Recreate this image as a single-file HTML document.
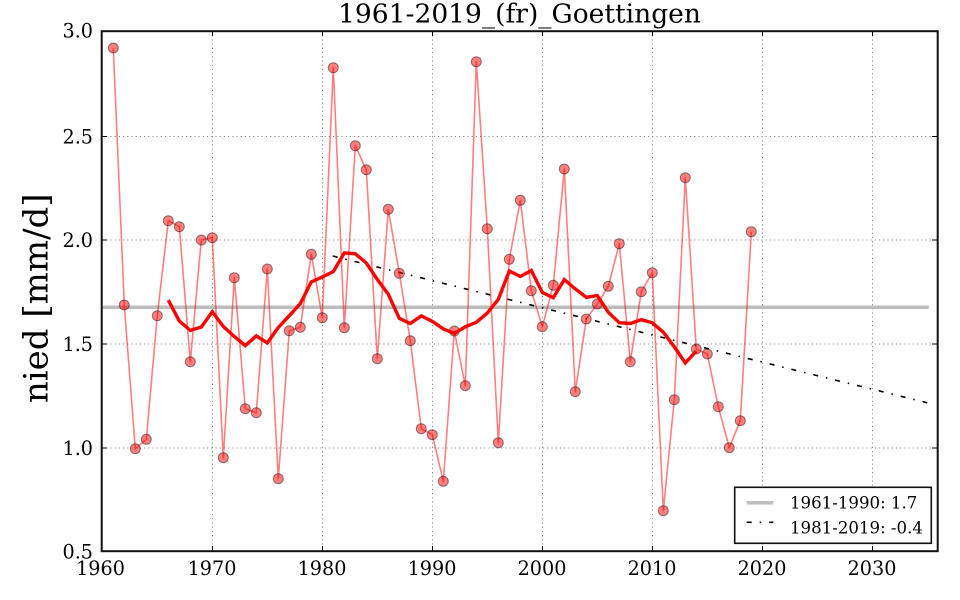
<!DOCTYPE html>
<html>
<head>
<meta charset="utf-8">
<style>
  html, body { margin: 0; padding: 0; background: #ffffff; }
  svg { display: block; }
  text { font-family: "DejaVu Serif", "Liberation Serif", serif; fill: #000; }
</style>
</head>
<body>
<svg width="960" height="600" viewBox="0 0 960 600" xmlns="http://www.w3.org/2000/svg">
  <rect x="0" y="0" width="960" height="600" fill="#ffffff"/>

  <g stroke="#8c8c8c" stroke-width="1" stroke-dasharray="1.2 3" fill="none">
    <line x1="212.5" y1="31" x2="212.5" y2="551"/>
    <line x1="322.5" y1="31" x2="322.5" y2="551"/>
    <line x1="432.5" y1="31" x2="432.5" y2="551"/>
    <line x1="542.5" y1="31" x2="542.5" y2="551"/>
    <line x1="652.5" y1="31" x2="652.5" y2="551"/>
    <line x1="762.5" y1="31" x2="762.5" y2="551"/>
    <line x1="872.5" y1="31" x2="872.5" y2="551"/>
    <line x1="102" y1="136.5" x2="937" y2="136.5"/>
    <line x1="102" y1="240" x2="937" y2="240"/>
    <line x1="102" y1="344" x2="937" y2="344"/>
    <line x1="102" y1="448" x2="937" y2="448"/>
  </g>

  <line x1="101.7" y1="307.2" x2="928.7" y2="307.2" stroke="#bdbdbd" stroke-width="3.5"/>

  <line x1="332.7" y1="256" x2="927.3" y2="402.8" stroke="#000" stroke-width="1.6" stroke-dasharray="5 8 1.5 8"/>

  <polyline fill="none" stroke="#ff0000" stroke-opacity="0.5" stroke-width="1.6" stroke-linejoin="round" points="113.3,48 124.3,305 135.3,448.7 146.3,439.3 157.3,315.7 168.3,220.7 179.3,226.7 190.3,361.7 201.3,240 212.3,237.7 223.3,457.7 234.3,277.7 245.3,408.7 256.3,412.7 267.3,269 278.3,478.7 289.3,330.7 300.3,327.3 311.3,254.3 322.3,317.7 333.3,67.7 344.3,327.7 355.3,145.7 366.3,169.7 377.3,358.7 388.3,209.3 399.3,273.3 410.3,340.7 421.3,428.7 432.3,434.7 443.3,481.3 454.3,331 465.3,385.7 476.3,61.7 487.3,228.7 498.3,442.7 509.3,259.3 520.3,200.3 531.3,290.7 542.3,326.7 553.3,285.3 564.3,169 575.3,391.7 586.3,319 597.3,304 608.3,286.3 619.3,243.7 630.3,361.7 641.3,291.7 652.3,272.7 663.3,510.7 674.3,399.7 685.3,177.7 696.3,349 707.3,354 718.3,406.7 729.3,447.7 740.3,420.7 751.3,231.7"/>

  <g fill="#ff0000" fill-opacity="0.5" stroke="#000" stroke-opacity="0.45" stroke-width="1">
    <circle cx="113.3" cy="48" r="5"/>
    <circle cx="124.3" cy="305" r="5"/>
    <circle cx="135.3" cy="448.7" r="5"/>
    <circle cx="146.3" cy="439.3" r="5"/>
    <circle cx="157.3" cy="315.7" r="5"/>
    <circle cx="168.3" cy="220.7" r="5"/>
    <circle cx="179.3" cy="226.7" r="5"/>
    <circle cx="190.3" cy="361.7" r="5"/>
    <circle cx="201.3" cy="240" r="5"/>
    <circle cx="212.3" cy="237.7" r="5"/>
    <circle cx="223.3" cy="457.7" r="5"/>
    <circle cx="234.3" cy="277.7" r="5"/>
    <circle cx="245.3" cy="408.7" r="5"/>
    <circle cx="256.3" cy="412.7" r="5"/>
    <circle cx="267.3" cy="269" r="5"/>
    <circle cx="278.3" cy="478.7" r="5"/>
    <circle cx="289.3" cy="330.7" r="5"/>
    <circle cx="300.3" cy="327.3" r="5"/>
    <circle cx="311.3" cy="254.3" r="5"/>
    <circle cx="322.3" cy="317.7" r="5"/>
    <circle cx="333.3" cy="67.7" r="5"/>
    <circle cx="344.3" cy="327.7" r="5"/>
    <circle cx="355.3" cy="145.7" r="5"/>
    <circle cx="366.3" cy="169.7" r="5"/>
    <circle cx="377.3" cy="358.7" r="5"/>
    <circle cx="388.3" cy="209.3" r="5"/>
    <circle cx="399.3" cy="273.3" r="5"/>
    <circle cx="410.3" cy="340.7" r="5"/>
    <circle cx="421.3" cy="428.7" r="5"/>
    <circle cx="432.3" cy="434.7" r="5"/>
    <circle cx="443.3" cy="481.3" r="5"/>
    <circle cx="454.3" cy="331" r="5"/>
    <circle cx="465.3" cy="385.7" r="5"/>
    <circle cx="476.3" cy="61.7" r="5"/>
    <circle cx="487.3" cy="228.7" r="5"/>
    <circle cx="498.3" cy="442.7" r="5"/>
    <circle cx="509.3" cy="259.3" r="5"/>
    <circle cx="520.3" cy="200.3" r="5"/>
    <circle cx="531.3" cy="290.7" r="5"/>
    <circle cx="542.3" cy="326.7" r="5"/>
    <circle cx="553.3" cy="285.3" r="5"/>
    <circle cx="564.3" cy="169" r="5"/>
    <circle cx="575.3" cy="391.7" r="5"/>
    <circle cx="586.3" cy="319" r="5"/>
    <circle cx="597.3" cy="304" r="5"/>
    <circle cx="608.3" cy="286.3" r="5"/>
    <circle cx="619.3" cy="243.7" r="5"/>
    <circle cx="630.3" cy="361.7" r="5"/>
    <circle cx="641.3" cy="291.7" r="5"/>
    <circle cx="652.3" cy="272.7" r="5"/>
    <circle cx="663.3" cy="510.7" r="5"/>
    <circle cx="674.3" cy="399.7" r="5"/>
    <circle cx="685.3" cy="177.7" r="5"/>
    <circle cx="696.3" cy="349" r="5"/>
    <circle cx="707.3" cy="354" r="5"/>
    <circle cx="718.3" cy="406.7" r="5"/>
    <circle cx="729.3" cy="447.7" r="5"/>
    <circle cx="740.3" cy="420.7" r="5"/>
    <circle cx="751.3" cy="231.7" r="5"/>
  </g>

  <polyline fill="none" stroke="#ff0000" stroke-width="3.4" points="168.3,300.1 179.3,321.0 190.3,330.4 201.3,327.1 212.3,311.7 223.3,326.5 234.3,336.5 245.3,345.6 256.3,335.9 267.3,342.9 278.3,327.5 289.3,315.7 300.3,303.7 311.3,281.9 322.3,277.0 333.3,271.6 344.3,252.9 355.3,253.8 366.3,263.0 377.3,279.4 388.3,294.3 399.3,318.3 410.3,323.5 421.3,315.9 432.3,321.3 443.3,328.9 454.3,333.4 465.3,326.8 476.3,322.3 487.3,313.0 498.3,299.4 509.3,271.0 520.3,276.5 531.3,270.5 542.3,292.5 553.3,297.7 564.3,279.6 575.3,288.9 586.3,297.3 597.3,295.6 608.3,312.3 619.3,322.7 630.3,323.5 641.3,319.7 652.3,322.8 663.3,332.2 674.3,346.8 685.3,362.9 696.3,351.1"/>

  <g stroke="#000" stroke-width="1">
    <line x1="212.5" y1="551" x2="212.5" y2="546"/>
    <line x1="322.5" y1="551" x2="322.5" y2="546"/>
    <line x1="432.5" y1="551" x2="432.5" y2="546"/>
    <line x1="542.5" y1="551" x2="542.5" y2="546"/>
    <line x1="652.5" y1="551" x2="652.5" y2="546"/>
    <line x1="762.5" y1="551" x2="762.5" y2="546"/>
    <line x1="872.5" y1="551" x2="872.5" y2="546"/>
    <line x1="212.5" y1="31" x2="212.5" y2="36"/>
    <line x1="322.5" y1="31" x2="322.5" y2="36"/>
    <line x1="432.5" y1="31" x2="432.5" y2="36"/>
    <line x1="542.5" y1="31" x2="542.5" y2="36"/>
    <line x1="652.5" y1="31" x2="652.5" y2="36"/>
    <line x1="762.5" y1="31" x2="762.5" y2="36"/>
    <line x1="872.5" y1="31" x2="872.5" y2="36"/>
    <line x1="102" y1="136.5" x2="107" y2="136.5"/>
    <line x1="102" y1="240" x2="107" y2="240"/>
    <line x1="102" y1="344" x2="107" y2="344"/>
    <line x1="102" y1="448" x2="107" y2="448"/>
    <line x1="937" y1="136.5" x2="932" y2="136.5"/>
    <line x1="937" y1="240" x2="932" y2="240"/>
    <line x1="937" y1="344" x2="932" y2="344"/>
    <line x1="937" y1="448" x2="932" y2="448"/>
  </g>

  <rect x="101.7" y="31.2" width="836" height="520" fill="none" stroke="#111" stroke-width="2"/>

  <g font-size="19.2" text-anchor="end">
    <text x="93" y="37.5">3.0</text>
    <text x="93" y="143.5">2.5</text>
    <text x="93" y="247">2.0</text>
    <text x="93" y="351">1.5</text>
    <text x="93" y="455">1.0</text>
    <text x="93" y="558.5">0.5</text>
  </g>

  <g font-size="19.2" text-anchor="middle">
    <text x="100.5" y="575">1960</text>
    <text x="212" y="575">1970</text>
    <text x="322" y="575">1980</text>
    <text x="432" y="575">1990</text>
    <text x="542" y="575">2000</text>
    <text x="652" y="575">2010</text>
    <text x="762" y="575">2020</text>
    <text x="872" y="575">2030</text>
  </g>

  <text x="519.5" y="22.7" font-size="26.5" text-anchor="middle">1961-2019_(fr)_Goettingen</text>

  <text transform="translate(47.3,298.3) rotate(-90)" font-size="34" text-anchor="middle">nied [mm/d]</text>

  <rect x="734.7" y="487.3" width="196.6" height="56" fill="#ffffff" stroke="#111" stroke-width="1.6"/>
  <line x1="746.7" y1="502.7" x2="773.3" y2="502.7" stroke="#bdbdbd" stroke-width="3.5"/>
  <line x1="746.7" y1="522.3" x2="773.3" y2="522.3" stroke="#000" stroke-width="1.6" stroke-dasharray="5 8 1.5 8"/>
  <g font-size="16.6">
    <text x="790" y="508.3">1961-1990: 1.7</text>
    <text x="790" y="533.3">1981-2019: -0.4</text>
  </g>
</svg>
</body>
</html>
